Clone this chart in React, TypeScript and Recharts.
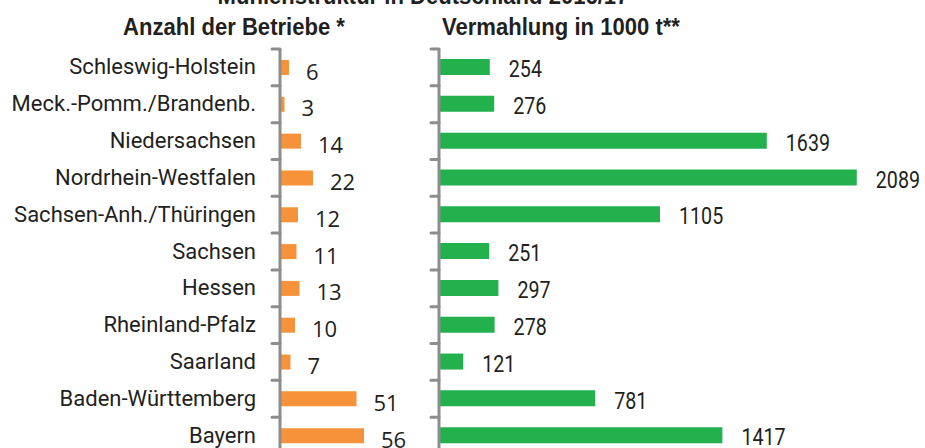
import React from 'react';
import { BarChart, Bar, XAxis, YAxis, LabelList } from 'recharts';

const categories = [
  'Schleswig-Holstein',
  'Meck.-Pomm./Brandenb.',
  'Niedersachsen',
  'Nordrhein-Westfalen',
  'Sachsen-Anh./Thüringen',
  'Sachsen',
  'Hessen',
  'Rheinland-Pfalz',
  'Saarland',
  'Baden-Württemberg',
  'Bayern',
];
const betriebe = [6, 3, 14, 22, 12, 11, 13, 10, 7, 51, 56];
const vermahlung = [254, 276, 1639, 2089, 1105, 251, 297, 278, 121, 781, 1417];

const mainTitle = 'Mühlenstruktur in Deutschland 2016/17';
const leftTitle = 'Anzahl der Betriebe *';
const rightTitle = 'Vermahlung in 1000 t**';

const data = categories.map((name, i) => ({ name, betriebe: betriebe[i], vermahlung: vermahlung[i] }));

const AXIS = '#8d8d8d';
const TEXT = '#231f20';
const ORANGE = '#f5923a';
const GREEN = '#22b14c';

const CatTick = (props: any) => {
  const { x, y, payload, showLabel } = props;
  const off = payload && payload.offset != null ? payload.offset : 18.4;
  const ax = x + 8;
  return (
    <g>
      <line x1={x} x2={ax} y1={y - off} y2={y - off} stroke={AXIS} strokeWidth={3} strokeLinecap="round" />
      {showLabel && (
        <text x={x - 16} y={y} dy={7} textAnchor="end" fontFamily="Roboto" fontSize={22} fill={TEXT}>
          {payload.value}
        </text>
      )}
    </g>
  );
};

const makeLabel = (offset: number, dy: number, font: string, size: number, sx: number) => (props: any) => {
  const { x, y, width, height, value } = props;
  const tx = x + width + offset;
  const ty = y + height / 2 + dy;
  return (
    <text
      transform={`translate(${tx},${ty}) scale(${sx},1)`}
      x={0}
      y={0}
      dominantBaseline="central"
      fontFamily={font}
      fontSize={size}
      fill={TEXT}
    >
      {value}
    </text>
  );
};

const Title = ({ x, y, anchor, children }: any) => (
  <text
    transform={`translate(${x},${y}) scale(0.92,1)`}
    x={0}
    y={0}
    textAnchor={anchor || 'start'}
    fontFamily="Liberation Sans"
    fontWeight="bold"
    fontSize={24}
    fill={TEXT}
  >
    {children}
  </text>
);

export default function App() {
  return (
    <div style={{ position: 'absolute', left: 0, top: 0, width: 925, height: 448, overflow: 'hidden', background: '#fff' }}>
      <svg width={925} height={48} style={{ position: 'absolute', left: 0, top: 0 }}>
        <Title x={423} y={4} anchor="middle">{mainTitle}</Title>
        <Title x={123} y={34.7}>{leftTitle}</Title>
        <Title x={442} y={34.7}>{rightTitle}</Title>
      </svg>
      <div style={{ position: 'absolute', left: 0, top: 0 }}>
        <BarChart width={430} height={470} data={data} layout="vertical" margin={{ top: 49, right: 0, bottom: 16, left: 0 }} barCategoryGap={0}>
          <XAxis type="number" hide domain={[0, 100]} />
          <YAxis
            type="category"
            dataKey="name"
            width={280}
            tickSize={8}
            tickMargin={0}
            tickLine={false}
            axisLine={{ stroke: AXIS, strokeWidth: 3 }}
            tick={<CatTick showLabel />}
            interval={0}
          />
          <Bar dataKey="betriebe" fill={ORANGE} barSize={15} isAnimationActive={false}>
            <LabelList dataKey="betriebe" content={makeLabel(17, 3, 'Open Sans', 22, 1)} />
          </Bar>
        </BarChart>
      </div>
      <div style={{ position: 'absolute', left: 420, top: 0 }}>
        <BarChart width={505} height={470} data={data} layout="vertical" margin={{ top: 49, right: 6, bottom: 16, left: 0 }} barCategoryGap={0}>
          <XAxis type="number" hide domain={[0, 2400]} />
          <YAxis
            type="category"
            dataKey="name"
            width={19}
            tickSize={8}
            tickMargin={0}
            tickLine={false}
            axisLine={{ stroke: AXIS, strokeWidth: 3 }}
            tick={<CatTick showLabel={false} />}
            interval={0}
          />
          <Bar dataKey="vermahlung" fill={GREEN} barSize={16} isAnimationActive={false}>
            <LabelList dataKey="vermahlung" content={makeLabel(19, 2, 'Roboto', 24, 0.82)} />
          </Bar>
        </BarChart>
      </div>
    </div>
  );
}
